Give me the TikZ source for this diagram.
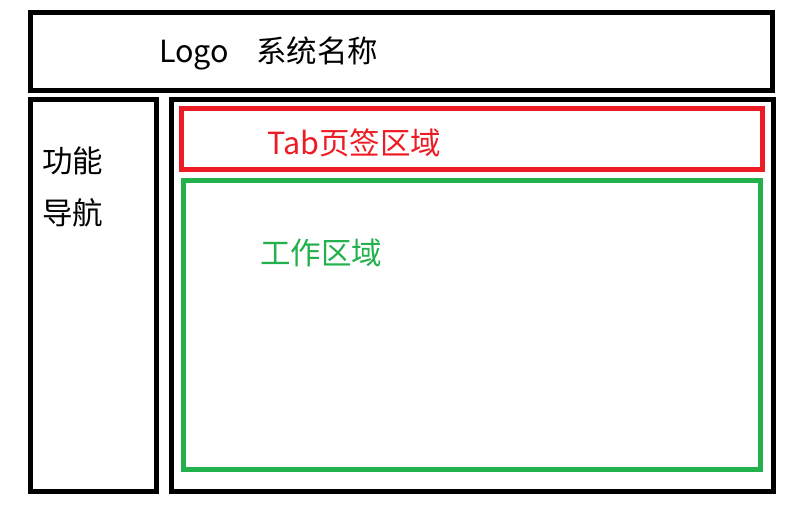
\documentclass[tikz,border=0pt]{standalone}
\usepackage{fontspec}
\setmainfont{Noto Sans CJK SC}
\definecolor{paintred}{HTML}{ED1C24}
\definecolor{paintgreen}{HTML}{22B14C}
\begin{document}
\begin{tikzpicture}[x=1pt,y=-1pt,
  frame/.style={draw=black,line width=5pt},
  redframe/.style={draw=paintred,line width=5pt},
  greenframe/.style={draw=paintgreen,line width=5pt},
  lbl/.style={inner sep=0pt,anchor=base west,font=\fontsize{30.5}{36}\selectfont}]
\useasboundingbox[fill=white] (0,0) rectangle (798,515);
\draw[frame] (30.5,12.5) rectangle (772.5,90);
\draw[frame] (30.5,99) rectangle (156.5,491.5);
\draw[frame] (171.5,99) rectangle (773.5,491.5);
\draw[redframe] (181.5,108.5) rectangle (762.5,169.5);
\draw[greenframe] (183.5,180.5) rectangle (760.5,469.5);
\node[lbl] (title) at (159,62) {Logo\hspace{27pt}系统名称};
\node[lbl] (nav1) at (42,172) {功能};
\node[lbl] (nav2) at (42,224) {导航};
\node[lbl,text=paintred] (tab) at (267,154) {Tab页签区域};
\node[lbl,text=paintgreen] (work) at (260,264) {工作区域};
\end{tikzpicture}
\end{document}
